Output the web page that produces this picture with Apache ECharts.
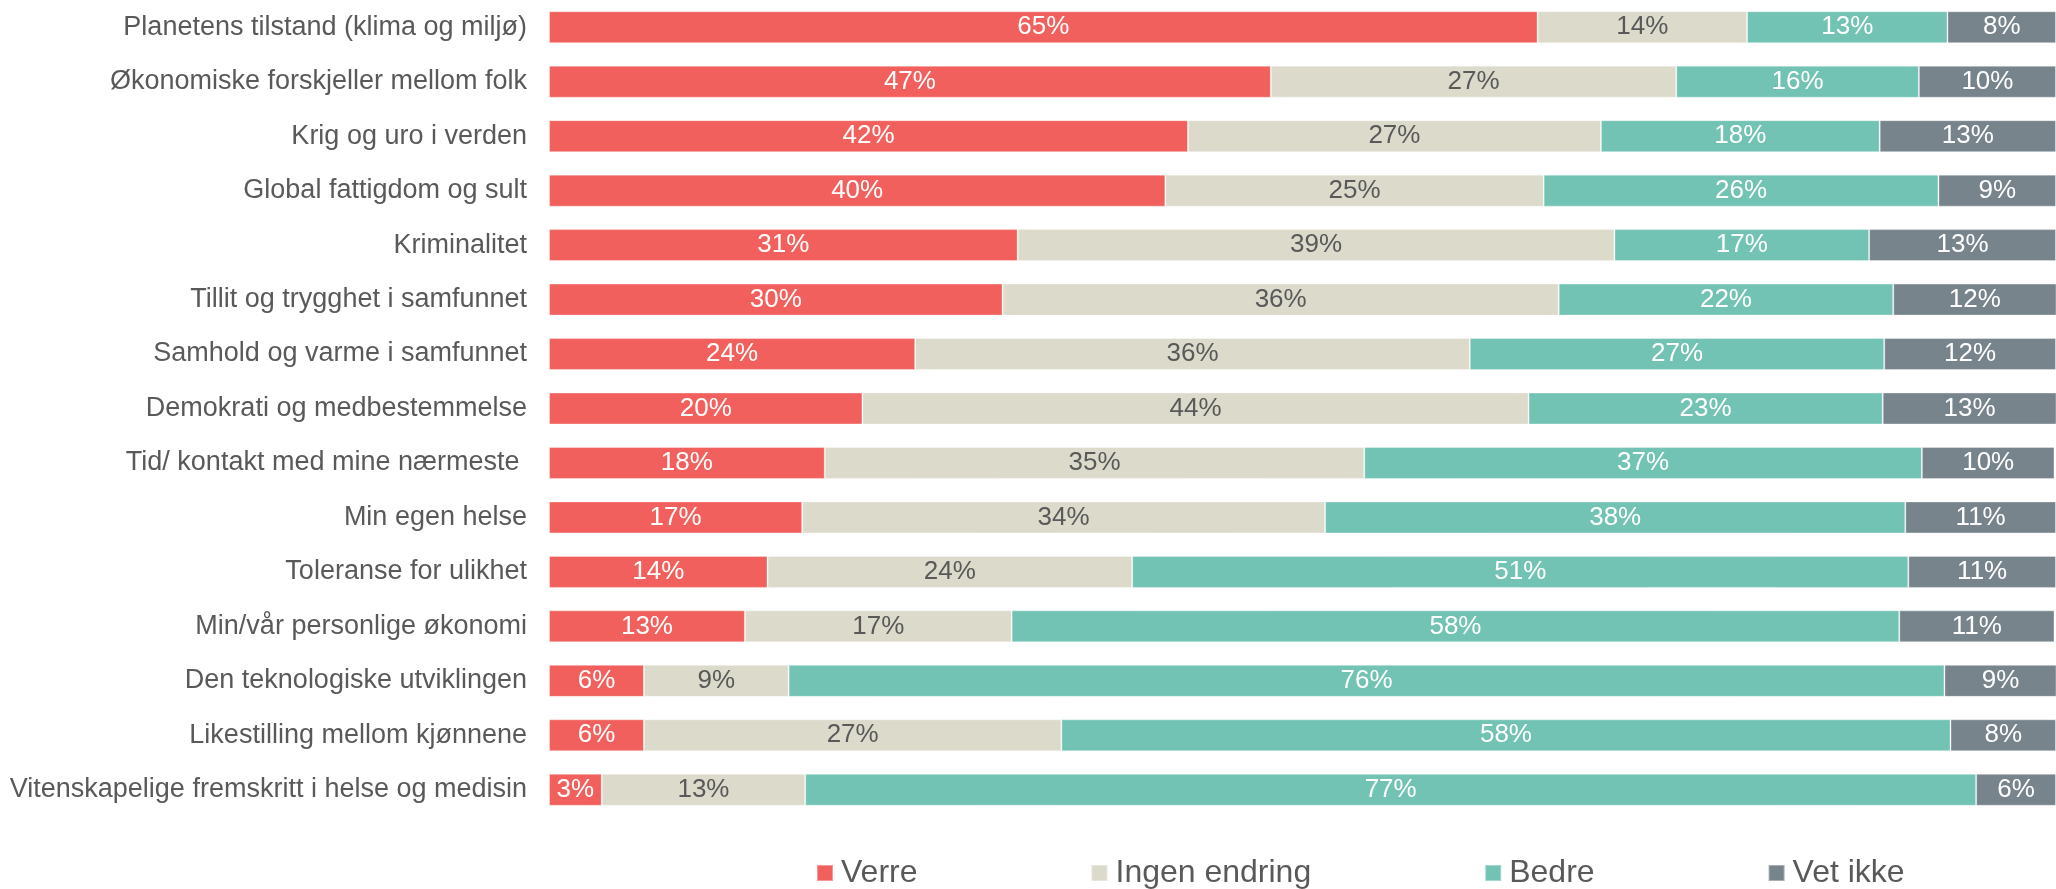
<!DOCTYPE html>
<html>
<head>
<meta charset="utf-8">
<script src="https://cdn.jsdelivr.net/npm/echarts@6/dist/echarts.min.js"></script>
<style>
html,body{margin:0;padding:0;background:#fff;}
#chart{width:2056px;height:889px;}
</style>
</head>
<body>
<div id="chart"></div>
<script>
const categories = [
  "Planetens tilstand (klima og miljø)",
  "Økonomiske forskjeller mellom folk",
  "Krig og uro i verden",
  "Global fattigdom og sult",
  "Kriminalitet",
  "Tillit og trygghet i samfunnet",
  "Samhold og varme i samfunnet",
  "Demokrati og medbestemmelse",
  "Tid/ kontakt med mine nærmeste ",
  "Min egen helse",
  "Toleranse for ulikhet",
  "Min/vår personlige økonomi",
  "Den teknologiske utviklingen",
  "Likestilling mellom kjønnene",
  "Vitenskapelige fremskritt i helse og medisin"
];
const seriesNames = ["Verre", "Ingen endring", "Bedre", "Vet ikke"];

// bar lengths (share of 100)
const verre        = [65.6, 47.9, 42.4, 40.9, 31.1, 30.1, 24.3, 20.8, 18.3, 16.8, 14.5, 13.0, 6.3, 6.3, 3.5];
const ingenEndring = [13.9, 26.9, 27.4, 25.1, 39.6, 36.9, 36.8, 44.2, 35.8, 34.7, 24.2, 17.7, 9.6, 27.7, 13.5];
const bedre        = [13.3, 16.1, 18.5, 26.2, 16.9, 22.2, 27.5, 23.5, 37.0, 38.5, 51.5, 58.9, 76.7, 59.0, 77.7];
const vetIkke      = [7.2, 9.1, 11.7, 7.8, 12.4, 10.9, 11.4, 11.6, 8.8, 10.0, 9.8, 10.3, 7.5, 7.0, 5.3];

// printed percentage labels
const verreLabels        = [65, 47, 42, 40, 31, 30, 24, 20, 18, 17, 14, 13, 6, 6, 3];
const ingenEndringLabels = [14, 27, 27, 25, 39, 36, 36, 44, 35, 34, 24, 17, 9, 27, 13];
const bedreLabels        = [13, 16, 18, 26, 17, 22, 27, 23, 37, 38, 51, 58, 76, 58, 77];
const vetIkkeLabels      = [8, 10, 13, 9, 13, 12, 12, 13, 10, 11, 11, 11, 9, 8, 6];

const colors = ["#F1605C", "#DCDACB", "#72C3B4", "#78848C"];
const labelColors = ["#FFFFFF", "#595959", "#FFFFFF", "#FFFFFF"];
const values = [verre, ingenEndring, bedre, vetIkke];
const labels = [verreLabels, ingenEndringLabels, bedreLabels, vetIkkeLabels];

const FONT = "'Liberation Sans', Arial, sans-serif";

const chart = echarts.init(document.getElementById('chart'), null, {renderer: 'canvas'});
chart.setOption({
  animation: false,
  backgroundColor: '#fff',
  textStyle: {fontFamily: FONT},
  grid: {left: 549, right: 0, top: 0, height: 817, containLabel: false},
  legend: {
    data: seriesNames,
    left: 811,
    top: 852,
    itemWidth: 16,
    itemHeight: 16,
    itemGap: 173,
    icon: 'rect',
    textStyle: {fontSize: 32, color: '#595959', fontFamily: FONT, padding: [0, 0, 0, 3]}
  },
  xAxis: {
    type: 'value', min: 0, max: 100, show: false
  },
  yAxis: {
    type: 'category',
    inverse: true,
    data: categories,
    axisLine: {show: false},
    axisTick: {show: false},
    axisLabel: {fontSize: 27, color: '#595959', margin: 22, fontFamily: FONT}
  },
  series: seriesNames.map((name, si) => ({
    name: name,
    type: 'bar',
    stack: 'total',
    barWidth: 32,
    itemStyle: {color: colors[si], borderColor: 'rgba(255,255,255,0.35)', borderWidth: 1},
    label: {
      show: true,
      position: 'inside',
      color: labelColors[si],
      fontSize: 26,
      fontFamily: FONT,
      formatter: (p) => labels[si][p.dataIndex] + '%'
    },
    data: values[si]
  }))
});
</script>
</body>
</html>
